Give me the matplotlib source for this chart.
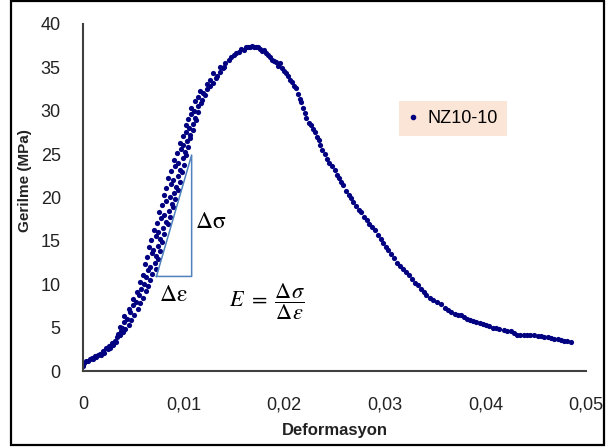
import matplotlib
matplotlib.use("Agg")
import matplotlib.pyplot as plt
from matplotlib.patches import Rectangle
from matplotlib.lines import Line2D
from matplotlib.ticker import FuncFormatter

# strain (Deformasyon) and stress (Gerilme, MPa)
strain = [
    # toe region
    0.0000, 0.0001, 0.0003, 0.0005, 0.0007, 0.0009, 0.0010, 0.0012, 0.0013, 0.0015,
    0.0017, 0.0018, 0.0020, 0.0021, 0.0023, 0.0025, 0.0026, 0.0027, 0.0029, 0.0030,
    0.0032, 0.0033, 0.0034, 0.0035, 0.0037, 0.0038, 0.0039, 0.0040, 0.0042, 0.0036,
    # steep rising band
    0.0037, 0.0046, 0.0041, 0.0048, 0.0044, 0.0041, 0.0051, 0.0047,
    0.0046, 0.0055, 0.0050, 0.0057, 0.0053, 0.0050, 0.0060, 0.0056,
    0.0054, 0.0063, 0.0058, 0.0065, 0.0061, 0.0057, 0.0067, 0.0063,
    0.0060, 0.0069, 0.0065, 0.0073, 0.0067, 0.0062, 0.0072, 0.0075,
    0.0064, 0.0073, 0.0069, 0.0077, 0.0070, 0.0066, 0.0075, 0.0079,
    0.0068, 0.0077, 0.0073, 0.0081, 0.0075, 0.0071, 0.0080, 0.0084,
    0.0074, 0.0083, 0.0078, 0.0086, 0.0081, 0.0076, 0.0085, 0.0089,
    0.0079, 0.0088, 0.0083, 0.0091, 0.0086, 0.0081, 0.0090, 0.0094,
    0.0083, 0.0092, 0.0087, 0.0096, 0.0089, 0.0084, 0.0094, 0.0098,
    0.0087, 0.0096, 0.0091, 0.0100, 0.0094, 0.0090, 0.0099, 0.0102,
    0.0093, 0.0101, 0.0097, 0.0104, 0.0099, 0.0096, 0.0103, 0.0106,
    0.0099, 0.0106, 0.0102, 0.0109, 0.0105, 0.0102, 0.0109, 0.0112,
    0.0104, 0.0111, 0.0107, 0.0114, 0.0110, 0.0107, 0.0114, 0.0117,
    0.0111, 0.0118, 0.0114, 0.0121, 0.0119, 0.0116, 0.0123, 0.0126,
    0.0123, 0.0129, 0.0126, 0.0132, 0.0133, 0.0129, 0.0136, 0.0139,
    # peak
    0.0136, 0.0140, 0.0141, 0.0145, 0.0147, 0.0150, 0.0152, 0.0155, 0.0157, 0.0160,
    0.0162, 0.0164, 0.0166, 0.0168, 0.0170, 0.0172, 0.0174, 0.0176, 0.0178, 0.0180,
    0.0182, 0.0184, 0.0186, 0.0188, 0.0190, 0.0192, 0.0194,
    # softening branch
    0.0196, 0.0198, 0.0200, 0.0202, 0.0204, 0.0206, 0.0208, 0.0210, 0.0212,
    0.0214, 0.0216, 0.0217, 0.0219, 0.0221, 0.0222, 0.0225, 0.0227, 0.0229, 0.0231,
    0.0233, 0.0235, 0.0236, 0.0238, 0.0241, 0.0243, 0.0245, 0.0248, 0.0250, 0.0252,
    0.0254, 0.0256, 0.0258, 0.0261, 0.0264, 0.0266, 0.0268, 0.0271, 0.0274, 0.0276,
    0.0279, 0.0282, 0.0284, 0.0287, 0.0290, 0.0293, 0.0296, 0.0298, 0.0301, 0.0303,
    0.0306, 0.0309, 0.0312, 0.0315, 0.0318, 0.0321, 0.0324, 0.0327, 0.0330, 0.0333,
    0.0336, 0.0339, 0.0341, 0.0345, 0.0348, 0.0352, 0.0356, 0.0360, 0.0363, 0.0366,
    0.0370, 0.0373, 0.0376, 0.0379, 0.0382, 0.0385, 0.0388, 0.0391, 0.0395, 0.0398,
    0.0401, 0.0404, 0.0408, 0.0411, 0.0414, 0.0418, 0.0421, 0.0425, 0.0428, 0.0431,
    0.0434, 0.0438, 0.0441, 0.0444, 0.0448, 0.0452, 0.0455, 0.0458, 0.0462, 0.0465,
    0.0468, 0.0472, 0.0475, 0.0478, 0.0481, 0.0485,
]
stress = [
    0.6, 0.9, 1.1, 1.2, 1.4, 1.5, 1.4, 1.7, 1.6, 1.9,
    2.0, 1.8, 2.3, 2.1, 2.6, 2.5, 2.9, 2.7, 3.2, 3.0,
    3.5, 3.3, 3.9, 4.3, 4.1, 4.6, 4.9, 4.5, 4.8, 4.2,
    5.1, 5.3, 5.6, 5.9, 6.0, 6.3, 6.5, 6.8,
    7.1, 7.2, 7.6, 7.8, 8.0, 8.3, 8.4, 8.8,
    9.1, 9.2, 9.5, 9.8, 10.0, 10.3, 10.5, 10.8,
    11.1, 11.2, 11.6, 11.8, 12.0, 12.3, 12.5, 12.9,
    13.1, 13.2, 13.6, 13.8, 14.0, 14.3, 14.4, 14.9,
    15.1, 15.2, 15.6, 15.8, 16.0, 16.3, 16.5, 16.9,
    17.1, 17.2, 17.6, 17.8, 18.0, 18.3, 18.5, 18.9,
    19.1, 19.2, 19.6, 19.8, 20.0, 20.3, 20.5, 20.9,
    21.1, 21.2, 21.6, 21.8, 22.0, 22.3, 22.5, 22.9,
    23.1, 23.2, 23.6, 23.8, 24.0, 24.3, 24.5, 24.9,
    25.1, 25.2, 25.6, 25.8, 26.0, 26.3, 26.5, 26.9,
    27.1, 27.2, 27.6, 27.8, 28.0, 28.3, 28.5, 28.9,
    29.1, 29.2, 29.6, 29.8, 30.0, 30.3, 30.5, 30.9,
    31.1, 31.2, 31.6, 31.8, 32.0, 32.3, 32.5, 32.9,
    33.1, 33.2, 33.6, 33.8, 34.0, 34.3, 34.5, 34.9,
    35.0, 35.1, 35.5, 35.8, 36.2, 36.4, 36.7, 36.8, 37.1, 37.0,
    37.3, 37.4, 37.3, 37.5, 37.4, 37.4, 37.3, 37.1, 36.9, 37.0,
    36.6, 36.4, 36.2, 35.9, 35.7, 35.6, 35.2,
    35.5, 34.9, 34.6, 34.4, 34.0, 33.6, 33.3, 32.9, 32.6,
    31.9, 31.4, 31.0, 30.3, 29.7, 29.2, 28.6, 28.4, 27.9, 27.6,
    27.0, 26.6, 26.0, 25.5, 25.0, 24.4, 24.0, 23.6, 23.2, 22.6,
    22.3, 21.8, 21.4, 20.8, 20.3, 19.9, 19.5, 19.0, 18.6, 18.3,
    17.8, 17.4, 17.0, 16.6, 16.2, 15.7, 15.2, 14.8, 14.3, 13.9,
    13.5, 13.0, 12.5, 12.1, 11.8, 11.4, 11.1, 10.6, 10.2, 9.9,
    9.5, 9.1, 8.8, 8.4, 8.2, 7.9, 7.7, 7.3, 7.0, 6.8,
    6.6, 6.5, 6.4, 6.2, 6.0, 5.9, 5.8, 5.6, 5.5, 5.4,
    5.3, 5.2, 5.0, 4.9, 4.8, 4.7, 4.6, 4.6, 4.4, 4.2,
    4.2, 4.1, 4.1, 4.1, 4.1, 4.0, 4.0, 3.9, 3.9, 3.8,
    3.7, 3.7, 3.6, 3.5, 3.5, 3.4,
]

series_name = "NZ10-10"
x_ticks = [0, 0.01, 0.02, 0.03, 0.04, 0.05]
y_ticks = [0, 5, 10, 15, 20, 25, 30, 35, 40]

# slope triangle corners (strain, stress)
tri_x = [0.0073, 0.0108, 0.0108, 0.0073]
tri_y = [10.9, 10.9, 24.9, 10.9]

plt.rcParams["font.family"] = ["Liberation Sans", "DejaVu Sans"]
plt.rcParams["mathtext.fontset"] = "stix"

W, H = 606, 448
fig = plt.figure(figsize=(W / 100, H / 100), dpi=100)
ax = fig.add_axes([83 / W, 1 - 371 / H, (586 - 83) / W, (371 - 24) / H])

navy = "#000080"
ax.scatter(strain, stress, s=14, color=navy, linewidths=0, zorder=2)

ax.plot(tri_x, tri_y, color="#4F81BD", lw=1.1, zorder=3)

ax.set_xlim(0, 0.05)
ax.set_ylim(0, 40)
ax.set_xticks(x_ticks)
ax.set_yticks(y_ticks)
ax.xaxis.set_major_formatter(FuncFormatter(lambda v, p: ("%g" % round(v, 3)).replace(".", ",")))
ax.tick_params(length=0, labelsize=13, colors="#222222")
ax.tick_params(axis="x", pad=18)
ax.tick_params(axis="y", pad=16)

for s in ["top", "right"]:
    ax.spines[s].set_visible(False)
for s in ["left", "bottom"]:
    ax.spines[s].set_color("#404040")
    ax.spines[s].set_linewidth(1.5)

ax.set_xlabel("Deformasyon", fontsize=12, fontweight="bold", color="#222222")
ax.set_ylabel("Gerilme (MPa)", fontsize=11, fontweight="bold", color="#222222")
ax.xaxis.set_label_coords(0.5, -0.15)
ax.yaxis.set_label_coords(-0.101, 0.55)

def ax_pt(px, py):
    return ((px - 83) / (586 - 83), (371 - py) / (371 - 24))

ax.text(*ax_pt(211, 222), r"$\Delta\mathrm{\sigma}$", transform=ax.transAxes,
        fontsize=17, ha="center", va="center")
ax.text(*ax_pt(173, 295), r"$\Delta\mathrm{\varepsilon}$", transform=ax.transAxes,
        fontsize=17, ha="center", va="center")
ax.text(*ax_pt(229, 302), r"$E\ =\ \dfrac{\Delta\sigma}{\Delta\varepsilon}$", transform=ax.transAxes,
        fontsize=16, ha="left", va="center")

handle = Line2D([], [], ls="none", marker="o", markersize=3, color=navy)
leg = ax.legend([handle], [series_name], loc="upper left",
                bbox_to_anchor=(399 / W, 1 - 101 / H), bbox_transform=fig.transFigure,
                borderaxespad=0, fontsize=13, handlelength=0.6, handletextpad=0.5,
                borderpad=0.5, fancybox=False, frameon=True)
leg.get_frame().set_facecolor("#FBE5D6")
leg.get_frame().set_edgecolor("none")
leg.get_frame().set_alpha(1)

fig.patches.append(Rectangle((11 / W, 3 / H), (604 - 11) / W, (447 - 3) / H,
                             transform=fig.transFigure, fill=False,
                             edgecolor="black", linewidth=1.6))

fig.savefig("out.png", dpi=100)
